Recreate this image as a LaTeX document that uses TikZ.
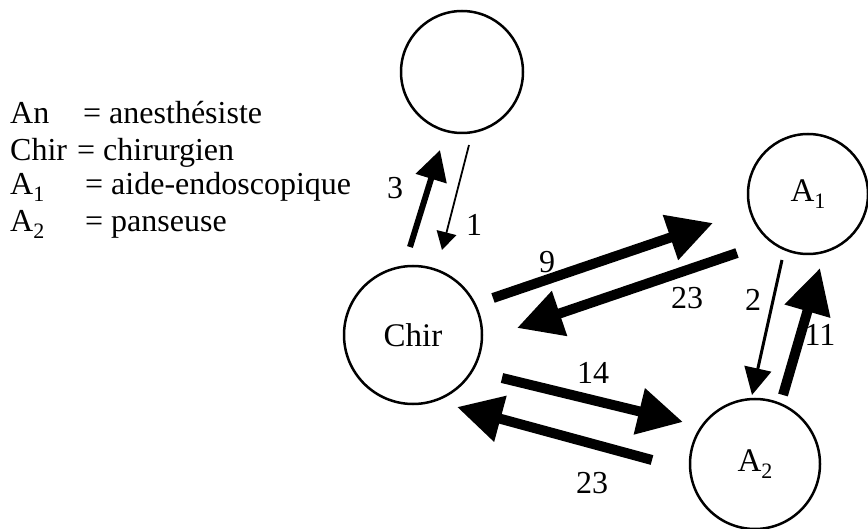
\documentclass[tikz,border=0pt]{standalone}
\usepackage{fontspec}
\setmainfont{Liberation Serif}
\usetikzlibrary{arrows.meta}
\newcommand\subidx[1]{\raisebox{-0.19em}{\fontsize{22}{22}\selectfont #1}}
\begin{document}
\begin{tikzpicture}[x=1pt,y=-1pt,
  every node/.style={font=\fontsize{32}{38}\selectfont, inner sep=0pt},
  actor/.style={circle, draw, line width=2.5pt, inner sep=0pt, font=\fontsize{33}{38}\selectfont},
  heavy/.style={line width=10pt, -{Triangle[length=45pt,width=45pt]}},
  medium/.style={line width=6pt, -{Triangle[length=30pt,width=31pt]}},
  light/.style={line width=3pt, -{Triangle[length=27pt,width=27pt]}},
  thin/.style={line width=1.8pt, -{Triangle[length=18pt,width=20pt]}}]
\useasboundingbox (0,0) rectangle (868,529);

% actors
\node[actor, minimum size=122pt] (an) at (462,72) {};
\node[actor, minimum size=138pt] (chir) at (413,335) {Chir};
\node[actor, minimum size=120pt] (a1) at (808,194) {A\subidx{1}};
\node[actor, minimum size=130pt] (a2) at (755,464) {A\subidx{2}};

% legend
\node[anchor=base west] (k1) at (10,124) {An};
\node[anchor=base west] (v1) at (83,124) {= anesthésiste};
\node[anchor=base west] (k2) at (10,161) {Chir};
\node[anchor=base west] (v2) at (77,161) {= chirurgien};
\node[anchor=base west] (k3) at (10,195) {A\subidx{1}};
\node[anchor=base west] (v3) at (85,195) {= aide-endoscopique};
\node[anchor=base west] (k4) at (10,232) {A\subidx{2}};
\node[anchor=base west] (v4) at (85,232) {= panseuse};

% arrow end points
\coordinate (c3s) at (410,247);  \coordinate (c3e) at (440,150);
\coordinate (c1s) at (469,145);  \coordinate (c1e) at (442,250);
\coordinate (c9s) at (493,298);  \coordinate (c9e) at (713,223);
\coordinate (u23s) at (737,253); \coordinate (u23e) at (517,328);
\coordinate (c2s) at (782,260);  \coordinate (c2e) at (752,395);
\coordinate (c11s) at (783,395); \coordinate (c11e) at (820,268);
\coordinate (c14s) at (502,378); \coordinate (c14e) at (683,422);
\coordinate (l23s) at (652,460); \coordinate (l23e) at (457,407);

\draw[medium] (c3s) -- (c3e);
\draw[thin] (c1s) -- (c1e);
\draw[heavy] (c9s) -- (c9e);
\draw[heavy] (u23s) -- (u23e);
\draw[light] (c2s) -- (c2e);
\draw[heavy] (c11s) -- (c11e);
\draw[heavy] (c14s) -- (c14e);
\draw[heavy] (l23s) -- (l23e);

% labels
\node (t3) at (395,188) {3};
\node (t1) at (474,225) {1};
\node (t9) at (547,262) {9};
\node (tu23) at (687,298) {23};
\node (t2) at (753,300) {2};
\node (t11) at (820,335) {11};
\node (t14) at (593,373) {14};
\node (tl23) at (592,483) {23};
\end{tikzpicture}
\end{document}
